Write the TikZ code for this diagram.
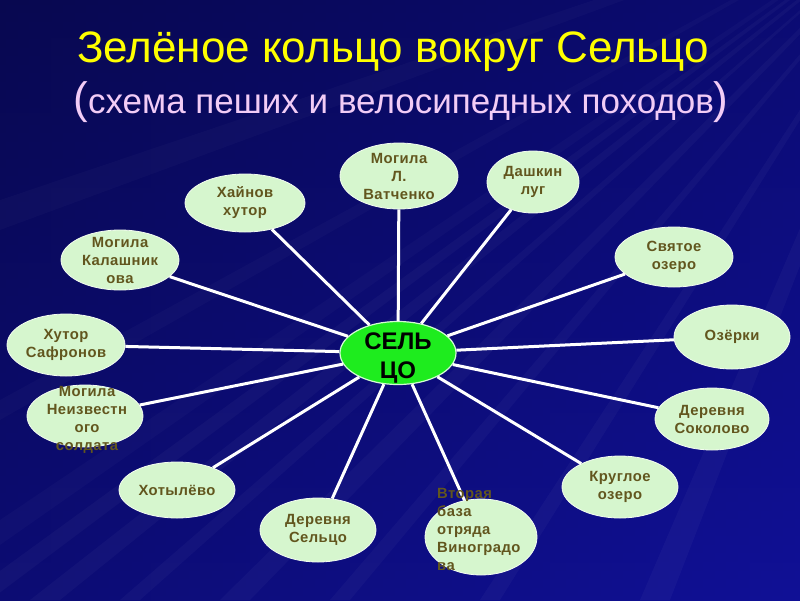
\documentclass[tikz,border=0pt]{standalone}
\usepackage{fontspec}
\setmainfont{Liberation Sans}
\newfontfamily\lblfont[LetterSpace=3]{Liberation Sans}
\usetikzlibrary{shapes.geometric}
\definecolor{bgblue}{RGB}{16,16,150}
\definecolor{bgdark}{RGB}{8,8,80}
\definecolor{nodegreen}{RGB}{214,246,206}
\definecolor{centergreen}{RGB}{30,236,30}
\definecolor{txtbrown}{RGB}{98,86,30}
\definecolor{titleyellow}{RGB}{255,255,0}
\definecolor{subpink}{RGB}{242,204,246}
\tikzset{
  oval/.style={ellipse, fill=nodegreen, draw=white!70!nodegreen, line width=0.8pt, inner sep=0pt},
  hub/.style={ellipse, fill=centergreen, draw=white!80!centergreen, line width=1.2pt, inner sep=0pt, minimum width=116, minimum height=63},
  lbl/.style={font=\lblfont\bfseries\fontsize{14.8}{18}\selectfont, text=txtbrown, align=center, inner sep=0pt},
  spoke/.style={draw=white, line width=3pt},
}
\begin{document}
\begin{tikzpicture}[x=1pt,y=-1pt]
\useasboundingbox (0,0) rectangle (800,600);
\shade[left color=bgdark, right color=bgblue] (0,0) rectangle (800,600);
\shade[top color=bgdark, bottom color=bgblue, opacity=0.5] (0,0) rectangle (800,600);
% rays
\foreach \a/\b in {-40/-10, 30/60, 120/140, 220/250, 330/350, 480/500, 640/670}
  \fill[white, opacity=0.03] (950,-120) -- (\a,600) -- (\b,600) -- cycle;
\foreach \a/\b in {200/230, 400/420, 520/545}
  \fill[white, opacity=0.025] (950,-120) -- (0,\a) -- (0,\b) -- cycle;

% title
\node[text=titleyellow, font=\fontsize{44}{44}\selectfont, inner sep=0pt, anchor=base] (title) at (393,62) {Зелёное кольцо вокруг Сельцо};
\node[text=subpink, font=\fontsize{35}{35}\selectfont, inner sep=0pt, anchor=base] (sub) at (401,113)
  {{\fontsize{44}{44}\selectfont(}схема пеших и велосипедных походов{\fontsize{44}{44}\selectfont)}};

% ellipses
\node[hub] (c) at (398,353) {};
\node[oval, minimum width=118, minimum height=66] (vat) at (399,176) {};
\node[oval, minimum width=120, minimum height=58] (hay) at (245,203) {};
\node[oval, minimum width=92, minimum height=62] (dash) at (533,182) {};
\node[oval, minimum width=118, minimum height=60] (kal) at (120,260) {};
\node[oval, minimum width=118, minimum height=62] (saf) at (66,345) {};
\node[oval, minimum width=116, minimum height=62] (neiz) at (85,416) {};
\node[oval, minimum width=116, minimum height=56] (hot) at (177,490) {};
\node[oval, minimum width=116, minimum height=64] (dsel) at (318,530) {};
\node[oval, minimum width=112, minimum height=76] (vtor) at (481,537) {};
\node[oval, minimum width=116, minimum height=62] (krug) at (620,487) {};
\node[oval, minimum width=114, minimum height=62] (sok) at (712,419) {};
\node[oval, minimum width=116, minimum height=64] (oz) at (732,337) {};
\node[oval, minimum width=118, minimum height=60] (svy) at (674,257) {};

% spokes
\foreach \n in {vat,hay,dash,kal,saf,neiz,hot,dsel,vtor,krug,sok,oz,svy}
  \draw[spoke] (c) -- (\n);

% labels
\node[font=\bfseries\fontsize{24}{29}\selectfont, align=center, inner sep=0pt] (ct) at (398,358) {СЕЛЬ\\ЦО};
\node[lbl] (vatt) at (vat) {Могила\\Л.\\Ватченко};
\node[lbl] (hayt) at (hay) {Хайнов\\хутор};
\node[lbl] (dasht) at (dash) {Дашкин\\луг};
\node[lbl] (kalt) at (kal) {Могила\\Калашник\\ова};
\node[lbl] (saft) at (saf) {Хутор\\Сафронов};
\node[lbl] (neizt) at (87,420) {Могила\\Неизвестн\\ого\\солдата};
\node[lbl] (hott) at (hot) {Хотылёво};
\node[lbl] (dselt) at (dsel) {Деревня\\Сельцо};
\node[lbl, align=left, anchor=west] (vtort) at (437,529) {Вторая\\база\\отряда\\Виноградо\\ва};
\node[lbl] (krugt) at (krug) {Круглое\\озеро};
\node[lbl] (sokt) at (sok) {Деревня\\Соколово};
\node[lbl] (ozt) at (oz) {Озёрки};
\node[lbl] (svyt) at (svy) {Святое\\озеро};
\end{tikzpicture}
\end{document}
